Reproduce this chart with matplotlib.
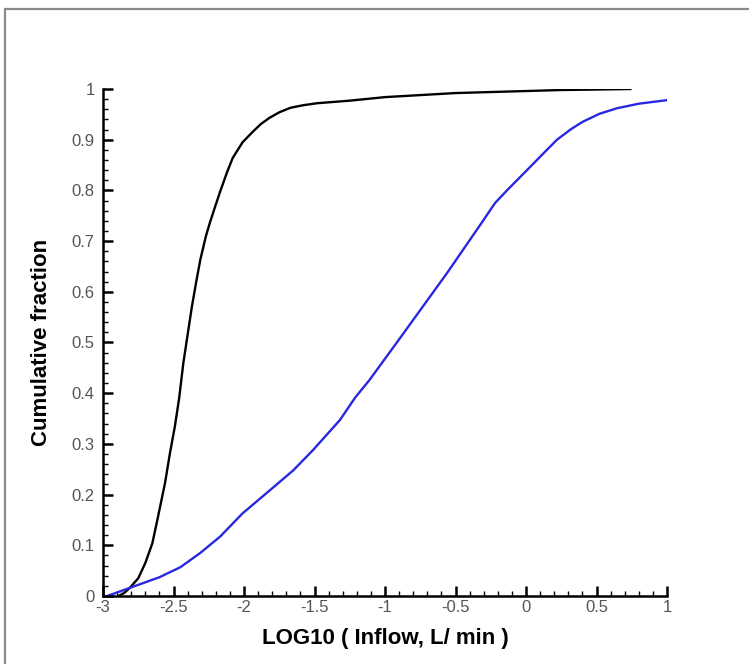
import matplotlib
matplotlib.use("Agg")
import matplotlib.pyplot as plt
from matplotlib.ticker import MultipleLocator, FuncFormatter
from matplotlib.patches import Rectangle

plt.rcParams['font.family'] = ['Liberation Sans', 'DejaVu Sans']
plt.rcParams['axes.unicode_minus'] = False

# Black curve
black_x = [-2.89, -2.85, -2.81, -2.75, -2.70, -2.65, -2.61, -2.56, -2.525, -2.49, -2.46,
           -2.43, -2.40, -2.37, -2.34, -2.31, -2.27, -2.24, -2.20, -2.17, -2.12, -2.08,
           -2.01, -1.94, -1.88, -1.82, -1.75, -1.67, -1.58, -1.48, -1.25, -1.0, -0.75,
           -0.5, -0.25, 0.0, 0.25, 0.5, 0.74]
black_y = [0.0, 0.006, 0.016, 0.035, 0.065, 0.104, 0.156, 0.223, 0.282, 0.335, 0.39,
           0.46, 0.515, 0.57, 0.618, 0.663, 0.71, 0.738, 0.772, 0.797, 0.836, 0.864,
           0.895, 0.915, 0.931, 0.943, 0.954, 0.963, 0.968, 0.972, 0.977, 0.984, 0.988,
           0.992, 0.994, 0.996, 0.998, 0.999, 1.0]

# Blue curve
blue_x = [-2.97, -2.88, -2.79, -2.70, -2.60, -2.45, -2.31, -2.17, -2.01, -1.84, -1.65,
          -1.51, -1.32, -1.21, -1.11, -0.89, -0.56, -0.30, -0.22, -0.135, 0.007, 0.12,
          0.22, 0.32, 0.40, 0.52, 0.645, 0.80, 1.0]
blue_y = [0.0, 0.009, 0.018, 0.027, 0.037, 0.057, 0.085, 0.117, 0.163, 0.203, 0.248,
          0.288, 0.347, 0.392, 0.426, 0.51, 0.637, 0.742, 0.775, 0.80, 0.84, 0.872,
          0.90, 0.921, 0.935, 0.951, 0.962, 0.971, 0.978]

xlabel = "LOG10 ( Inflow, L/ min )"
ylabel = "Cumulative fraction"

fig = plt.figure(figsize=(7.49, 6.64), dpi=100)
fig.patches.append(Rectangle((5/749, -0.1), 1.2, (664-9)/664 + 0.1, transform=fig.transFigure,
                             fill=False, edgecolor='#8a8a8a', linewidth=1.6))
ax = fig.add_axes([103/749, 1-596/664, (667-103)/749, (596-89)/664])

ax.plot(black_x, black_y, color='black', linewidth=1.7)
ax.plot(blue_x, blue_y, color='#2828e0', linewidth=1.7)

ax.set_xlim(-3, 1)
ax.set_ylim(0, 1)
for s in ['top', 'right']:
    ax.spines[s].set_visible(False)
for s in ['left', 'bottom']:
    ax.spines[s].set_linewidth(1.8)
ax.xaxis.set_major_locator(MultipleLocator(0.5))
ax.xaxis.set_minor_locator(MultipleLocator(0.1))
ax.yaxis.set_major_locator(MultipleLocator(0.1))
ax.yaxis.set_minor_locator(MultipleLocator(0.02))

def fmt(v, pos):
    s = f"{v:.1f}"
    if s.endswith(".0"):
        s = s[:-2]
    if s == "-0":
        s = "0"
    return s
ax.xaxis.set_major_formatter(FuncFormatter(fmt))
ax.yaxis.set_major_formatter(FuncFormatter(fmt))

ax.tick_params(which='major', direction='in', length=7, width=1.8, labelsize=12,
               labelcolor='#555555', color='black')
ax.tick_params(which='minor', direction='in', length=3.5, width=1.0, color='black')
ax.tick_params(axis='x', which='major', pad=3)
ax.tick_params(axis='y', which='major', pad=6)

ax.set_xlabel(xlabel, fontsize=16, fontweight='bold', labelpad=9)
ax.set_ylabel(ylabel, fontsize=16, fontweight='bold', labelpad=14)

fig.savefig("out.png", dpi=100)
